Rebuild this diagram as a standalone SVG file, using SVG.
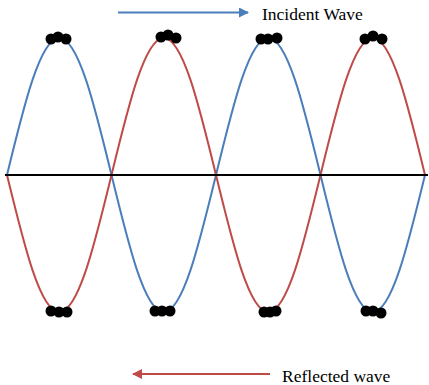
<svg xmlns="http://www.w3.org/2000/svg" width="429" height="385" viewBox="0 0 429 385">
<style>
.blue{fill:none;stroke:#4A7EBB;stroke-width:2}
.red{fill:none;stroke:#BE4B48;stroke-width:2}
.dot{fill:#000}
.lbl{font-family:"Liberation Serif","Times New Roman",serif;font-size:17.5px;fill:#000}
</style>
<defs>
<marker id="ahB" viewBox="0 0 10 10" refX="9" refY="5" markerWidth="5" markerHeight="5" markerUnits="strokeWidth" orient="auto"><path d="M0,0L10,5L0,10z" fill="#4A7EBB"/></marker>
<marker id="ahR" viewBox="0 0 10 10" refX="9" refY="5" markerWidth="5" markerHeight="5" markerUnits="strokeWidth" orient="auto"><path d="M0,0L10,5L0,10z" fill="#BE4B48"/></marker>
</defs>
<g id="connectors">
<path id="incident-wave" class="blue" d="M7,175 c17.04,-70.2 33.34,-137 52.25,-137 c18.91,0 35.21,66.8 52.25,137 c17.04,70.2 33.34,137 52.25,137 c18.91,0 35.21,-66.8 52.25,-137 c17.04,-70.2 33.34,-137 52.25,-137 c18.91,0 35.21,66.8 52.25,137 c17.04,70.2 33.34,137 52.25,137 c18.91,0 35.21,-66.8 52.25,-137"/>
<path id="reflected-wave" class="red" d="M7,175 c17.04,70.2 33.34,137 52.25,137 c18.91,0 35.21,-66.8 52.25,-137 c17.04,-70.2 33.34,-137 52.25,-137 c18.91,0 35.21,66.8 52.25,137 c17.04,70.2 33.34,137 52.25,137 c18.91,0 35.21,-66.8 52.25,-137 c17.04,-70.2 33.34,-137 52.25,-137 c18.91,0 35.21,66.8 52.25,137"/>
<line id="axis" x1="5" y1="175" x2="428" y2="175" stroke="#000" stroke-width="2"/>
<line id="incident-arrow" x1="118" y1="12.5" x2="248" y2="12.5" stroke="#4A7EBB" stroke-width="2" marker-end="url(#ahB)"/>
<line id="reflected-arrow" x1="270" y1="374" x2="133" y2="374" stroke="#BE4B48" stroke-width="2" marker-end="url(#ahR)"/>
</g>
<g id="top-1"><circle class="dot" cx="51" cy="39" r="5.5"/><circle class="dot" cx="58" cy="37" r="5.5"/><circle class="dot" cx="66" cy="39" r="5.5"/></g>
<g id="top-2"><circle class="dot" cx="161" cy="37" r="5.5"/><circle class="dot" cx="168" cy="35" r="5.5"/><circle class="dot" cx="176" cy="38" r="5.5"/></g>
<g id="top-3"><circle class="dot" cx="261" cy="39" r="5.5"/><circle class="dot" cx="268" cy="39" r="5.5"/><circle class="dot" cx="277" cy="38" r="5.5"/></g>
<g id="top-4"><circle class="dot" cx="365" cy="39" r="5.5"/><circle class="dot" cx="373" cy="36" r="5.5"/><circle class="dot" cx="382" cy="39" r="5.5"/></g>
<g id="bottom-1"><circle class="dot" cx="51" cy="311" r="5.5"/><circle class="dot" cx="59" cy="312" r="5.5"/><circle class="dot" cx="67" cy="312" r="5.5"/></g>
<g id="bottom-2"><circle class="dot" cx="155" cy="311" r="5.5"/><circle class="dot" cx="162" cy="311" r="5.5"/><circle class="dot" cx="170" cy="311" r="5.5"/></g>
<g id="bottom-3"><circle class="dot" cx="264" cy="312" r="5.5"/><circle class="dot" cx="270" cy="312" r="5.5"/><circle class="dot" cx="276" cy="311" r="5.5"/></g>
<g id="bottom-4"><circle class="dot" cx="366" cy="311" r="5.5"/><circle class="dot" cx="373" cy="311" r="5.5"/><circle class="dot" cx="381" cy="313" r="5.5"/></g>
<g id="label-incident"><text class="lbl" x="262" y="20">Incident Wave</text></g>
<g id="label-reflected"><text class="lbl" x="282" y="382">Reflected wave</text></g>
</svg>
